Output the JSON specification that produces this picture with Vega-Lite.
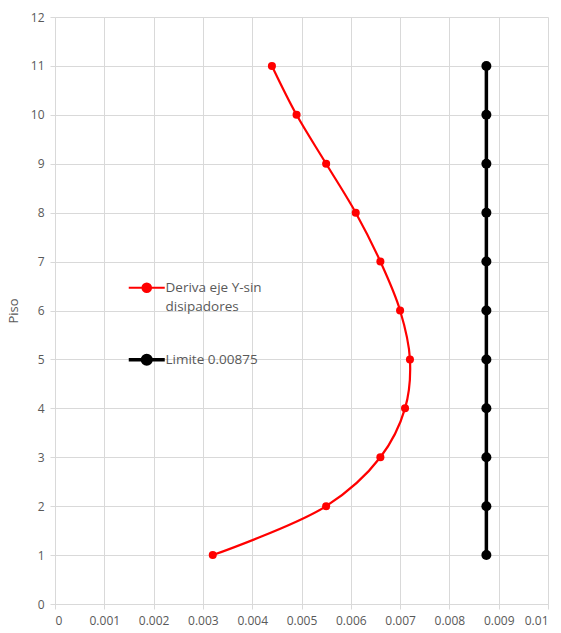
{
  "$schema": "https://vega.github.io/schema/vega-lite/v6.json",
  "width": 493,
  "height": 587,
  "autosize": {"type": "none"},
  "padding": {"left": 55, "top": 17, "right": 13, "bottom": 29},
  "background": "white",
  "config": {
    "font": "Open Sans",
    "view": {"stroke": null},
    "axis": {
      "gridColor": "#d9d9d9",
      "gridWidth": 1,
      "domainColor": "#d9d9d9",
      "tickColor": "#d9d9d9",
      "tickSize": 5,
      "labelColor": "#595959",
      "labelFontSize": 12,
      "labelFont": "Open Sans",
      "titleColor": "#595959",
      "titleFont": "Open Sans",
      "titleFontSize": 13,
      "titleFontWeight": "normal"
    }
  },
  "data": {
    "values": [
      {"serie": "Deriva eje Y-sin disipadores", "piso": 1, "deriva": 0.0032},
      {"serie": "Deriva eje Y-sin disipadores", "piso": 2, "deriva": 0.0055},
      {"serie": "Deriva eje Y-sin disipadores", "piso": 3, "deriva": 0.0066},
      {"serie": "Deriva eje Y-sin disipadores", "piso": 4, "deriva": 0.0071},
      {"serie": "Deriva eje Y-sin disipadores", "piso": 5, "deriva": 0.0072},
      {"serie": "Deriva eje Y-sin disipadores", "piso": 6, "deriva": 0.0070},
      {"serie": "Deriva eje Y-sin disipadores", "piso": 7, "deriva": 0.0066},
      {"serie": "Deriva eje Y-sin disipadores", "piso": 8, "deriva": 0.0061},
      {"serie": "Deriva eje Y-sin disipadores", "piso": 9, "deriva": 0.0055},
      {"serie": "Deriva eje Y-sin disipadores", "piso": 10, "deriva": 0.0049},
      {"serie": "Deriva eje Y-sin disipadores", "piso": 11, "deriva": 0.0044},
      {"serie": "Limite 0.00875", "piso": 1, "deriva": 0.00875},
      {"serie": "Limite 0.00875", "piso": 2, "deriva": 0.00875},
      {"serie": "Limite 0.00875", "piso": 3, "deriva": 0.00875},
      {"serie": "Limite 0.00875", "piso": 4, "deriva": 0.00875},
      {"serie": "Limite 0.00875", "piso": 5, "deriva": 0.00875},
      {"serie": "Limite 0.00875", "piso": 6, "deriva": 0.00875},
      {"serie": "Limite 0.00875", "piso": 7, "deriva": 0.00875},
      {"serie": "Limite 0.00875", "piso": 8, "deriva": 0.00875},
      {"serie": "Limite 0.00875", "piso": 9, "deriva": 0.00875},
      {"serie": "Limite 0.00875", "piso": 10, "deriva": 0.00875},
      {"serie": "Limite 0.00875", "piso": 11, "deriva": 0.00875}
    ]
  },
  "encoding": {
    "x": {
      "field": "deriva", "type": "quantitative",
      "scale": {"domain": [0, 0.01], "nice": false},
      "axis": {"values": [0, 0.001, 0.002, 0.003, 0.004, 0.005, 0.006, 0.007, 0.008, 0.009, 0.01], "format": "~g", "title": null, "labelPadding": 6}
    },
    "y": {
      "field": "piso", "type": "quantitative",
      "scale": {"domain": [0, 12], "nice": false},
      "axis": {"values": [0,1,2,3,4,5,6,7,8,9,10,11,12], "title": "Piso", "labelPadding": 6, "titlePadding": 10}
    },
    "color": {
      "field": "serie", "type": "nominal",
      "scale": {"domain": ["Deriva eje Y-sin disipadores", "Limite 0.00875"], "range": ["#ff0000", "#000000"]},
      "legend": {
        "title": null,
        "orient": "none",
        "legendX": 85,
        "legendY": 264,
        "symbolType": "M-1,0H1M0.24,0A0.24,0.24,0,1,1,-0.24,0A0.24,0.24,0,1,1,0.24,0Z",
        "symbolSize": 1296,
        "labelOffset": 12,
        "labelFont": "Open Sans",
        "labelFontSize": 13.5,
        "labelColor": "#595959",
        "rowPadding": 34,
        "labelExpr": "datum.label == 'Deriva eje Y-sin disipadores' ? ['Deriva eje Y-sin', 'disipadores'] : datum.label",
        "encode": {
          "symbols": {
            "update": {
              "size": {"value": 1296},
              "fill": {"scale": "color", "field": "value"},
              "fillOpacity": {"value": 1},
              "stroke": {"scale": "color", "field": "value"},
              "strokeOpacity": {"value": 1},
              "strokeWidth": {"signal": "datum.value == 'Limite 0.00875' ? 3.5 : 2"}
            }
          },
          "labels": {
            "update": {
              "lineHeight": {"value": 19}
            }
          }
        }
      }
    }
  },
  "layer": [
    {
      "transform": [{"filter": "datum.serie == 'Deriva eje Y-sin disipadores'"}],
      "mark": {"type": "line", "interpolate": "catmull-rom", "strokeWidth": 2.2},
      "encoding": {"order": {"field": "piso", "type": "quantitative"}}
    },
    {
      "transform": [{"filter": "datum.serie == 'Deriva eje Y-sin disipadores'"}],
      "mark": {"type": "point", "filled": true, "opacity": 1, "size": 65}
    },
    {
      "transform": [{"filter": "datum.serie == 'Limite 0.00875'"}],
      "mark": {"type": "line", "strokeWidth": 3.5},
      "encoding": {"order": {"field": "piso", "type": "quantitative"}}
    },
    {
      "transform": [{"filter": "datum.serie == 'Limite 0.00875'"}],
      "mark": {"type": "point", "filled": true, "opacity": 1, "size": 100}
    }
  ]
}
